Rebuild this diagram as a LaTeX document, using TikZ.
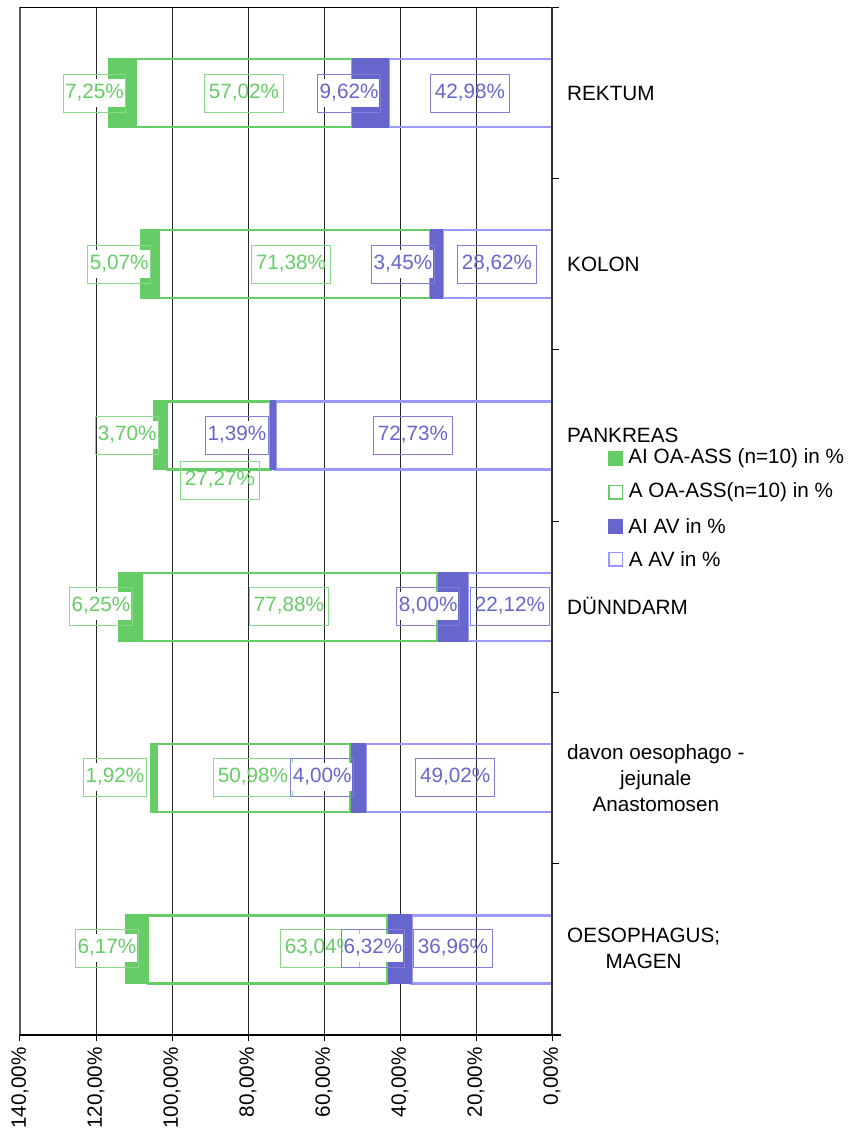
\documentclass[tikz,border=0pt]{standalone}
\usepackage{xcolor}
\usepackage{fontspec}
\setmainfont{Liberation Sans}
\usepackage{tikz}
\usetikzlibrary{positioning}

\definecolor{oagreen}{HTML}{66CC66}
\definecolor{oalbl}{HTML}{8AD98A}
\definecolor{avdark}{HTML}{6666CC}
\definecolor{avlight}{HTML}{9999FF}
\definecolor{avlbl}{HTML}{8080D8}
\definecolor{axisgray}{HTML}{333333}

\newcommand{\chartfont}{\fontsize{20.7}{26}\selectfont}
\newcommand{\wbg}[1]{{\setlength{\fboxsep}{1pt}\colorbox{white}{\strut#1}}}

\begin{document}
\begin{tikzpicture}[
    x=1pt, y=-1pt,
    aoa/.style={draw=oagreen, line width=2.4pt},
    aioa/.style={fill=oagreen},
    aav/.style={draw=avlight, line width=2.4pt},
    aiav/.style={fill=avdark},
    lbl/.style={line width=0.8pt, font=\chartfont, inner xsep=4.5pt, inner ysep=6pt, execute at begin node=\strut},
    lblw/.style={line width=0.8pt, font=\chartfont, inner xsep=1pt, inner ysep=5pt},
    glbl/.style={lbl, draw=oalbl, text=oagreen},
    gwlbl/.style={lblw, draw=oalbl, text=oagreen},
    blbl/.style={lbl, draw=avlbl, text=avdark},
    bwlbl/.style={lblw, draw=avlbl, text=avdark},
    gridln/.style={draw=black!85, line width=0.9pt},
    ticklbl/.style={rotate=90, anchor=east, font=\chartfont, inner sep=0pt},
    cat/.style={anchor=west, align=center, font=\chartfont, inner sep=0pt},
    legsq/.style={minimum size=15pt, inner sep=0pt},
    legtxt/.style={font=\chartfont, inner sep=0pt}
]
\useasboundingbox (0,0) rectangle (848,1135);

% value axis runs from 0% (right) to 140% (left)
\begin{scope}[shift={(552,0)}, x=-3.8pt]

% Gridlines
\draw[gridln] (20,7) -- (20,1035);
\draw[gridln] (40,7) -- (40,1035);
\draw[gridln] (60,7) -- (60,1035);
\draw[gridln] (80,7) -- (80,1035);
\draw[gridln] (100,7) -- (100,1035);
\draw[gridln] (120,7) -- (120,1035);
\draw[draw=black!65, line width=1.3pt] (140,7) -- (140,1035);
\draw[draw=black, line width=1pt] (140,7) -- (-1.84,7);

% REKTUM
\draw[aav] (0,58.7) rectangle (42.98,126.7);
\draw[aoa] (52.60,58.7) rectangle (109.62,126.7);
\fill[aiav] (42.98,57.7) rectangle (52.60,127.7);
\fill[aioa] (109.62,57.7) rectangle (116.87,127.7);

% KOLON
\draw[aav] (0,230.0) rectangle (28.62,298.0);
\draw[aoa] (32.07,230.0) rectangle (103.45,298.0);
\fill[aiav] (28.62,229.0) rectangle (32.07,299.0);
\fill[aioa] (103.45,229.0) rectangle (108.52,299.0);

% PANKREAS
\draw[aav] (0,401.3) rectangle (72.73,469.3);
\draw[aoa] (74.12,401.3) rectangle (101.39,469.3);
\fill[aiav] (72.73,400.3) rectangle (74.12,470.3);
\fill[aioa] (101.39,400.3) rectangle (105.09,470.3);

% DUENNDARM
\draw[aav] (0,572.7) rectangle (22.12,640.7);
\draw[aoa] (30.12,572.7) rectangle (108.00,640.7);
\fill[aiav] (22.12,571.7) rectangle (30.12,641.7);
\fill[aioa] (108.00,571.7) rectangle (114.25,641.7);

% davon oesophago-jejunale Anastomosen
\draw[aav] (0,744.0) rectangle (49.02,812.0);
\draw[aoa] (53.02,744.0) rectangle (104.00,812.0);
\fill[aiav] (49.02,743.0) rectangle (53.02,813.0);
\fill[aioa] (104.00,743.0) rectangle (105.92,813.0);

% OESOPHAGUS; MAGEN
\draw[aav] (0,915.3) rectangle (36.96,983.3);
\draw[aoa] (43.28,915.3) rectangle (106.32,983.3);
\fill[aiav] (36.96,914.3) rectangle (43.28,984.3);
\fill[aioa] (106.32,914.3) rectangle (112.49,984.3);

% Data labels
\node[gwlbl] (rekAIoa) at (120.4,93) {\wbg{7,25\%}};
\node[glbl] (rekAoa) at (81.05,93) {57,02\%};
\node[bwlbl] (rekAIav) at (53.4,93) {\wbg{9,62\%}};
\node[blbl] (rekAav) at (21.6,93) {42,98\%};

\node[gwlbl] (kolAIoa) at (113.9,264) {\wbg{5,07\%}};
\node[glbl] (kolAoa) at (68.7,264) {71,38\%};
\node[bwlbl] (kolAIav) at (39.2,264) {\wbg{3,45\%}};
\node[blbl] (kolAav) at (14.5,264) {28,62\%};

\node[gwlbl] (panAIoa) at (111.8,435) {\wbg{3,70\%}};
\node[glbl] (panAoa) at (87.4,480) {27,27\%};
\node[bwlbl] (panAIav) at (82.9,435) {\wbg{1,39\%}};
\node[blbl] (panAav) at (36.6,435) {72,73\%};

\node[gwlbl] (duenAIoa) at (118.7,606) {\wbg{6,25\%}};
\node[glbl] (duenAoa) at (69.2,606) {77,88\%};
\node[bwlbl] (duenAIav) at (32.6,606) {\wbg{8,00\%}};
\node[blbl] (duenAav) at (11.05,606) {22,12\%};

\node[gwlbl] (jejAIoa) at (115.0,777) {\wbg{1,92\%}};
\node[glbl] (jejAoa) at (78.7,777) {50,98\%};
\node[bwlbl] (jejAIav) at (60.5,777) {\wbg{4,00\%}};
\node[blbl] (jejAav) at (25.5,777) {49,02\%};

\node[gwlbl] (oesAIoa) at (117.1,948) {\wbg{6,17\%}};
\node[glbl] (oesAoa) at (61.05,948) {63,04\%};
\node[bwlbl] (oesAIav) at (47.1,948) {\wbg{6,32\%}};
\node[blbl] (oesAav) at (26.05,948) {36,96\%};

% Axes
\draw[draw=black, line width=1.2pt] (140,1035) -- (-2.4,1035);
\draw[draw=axisgray, line width=1.5pt] (0,7) -- (0,1035);
\draw[line width=1pt] (0,1035) -- (0,1041);
\draw[line width=1pt] (20,1035) -- (20,1041);
\draw[line width=1pt] (40,1035) -- (40,1041);
\draw[line width=1pt] (60,1035) -- (60,1041);
\draw[line width=1pt] (80,1035) -- (80,1041);
\draw[line width=1pt] (100,1035) -- (100,1041);
\draw[line width=1pt] (120,1035) -- (120,1041);
\draw[line width=1pt] (140,1035) -- (140,1041);
\draw[line width=1pt] (0,178.3) -- (-1.84,178.3);
\draw[line width=1pt] (0,349.7) -- (-1.84,349.7);
\draw[line width=1pt] (0,521.0) -- (-1.84,521.0);
\draw[line width=1pt] (0,692.3) -- (-1.84,692.3);
\draw[line width=1pt] (0,863.7) -- (-1.84,863.7);

\node[ticklbl] (t0) at (0,1047) {0,00\%};
\node[ticklbl] (t20) at (20,1047) {20,00\%};
\node[ticklbl] (t40) at (40,1047) {40,00\%};
\node[ticklbl] (t60) at (60,1047) {60,00\%};
\node[ticklbl] (t80) at (80,1047) {80,00\%};
\node[ticklbl] (t100) at (100,1047) {100,00\%};
\node[ticklbl] (t120) at (120,1047) {120,00\%};
\node[ticklbl] (t140) at (140,1047) {140,00\%};
\end{scope}

% Category labels
\node[cat] (rektum) at (567,93) {REKTUM};
\node[cat] (kolon) at (567,264) {KOLON};
\node[cat] (pankreas) at (567,435) {PANKREAS};
\node[cat] (duenndarm) at (567,606) {DÜNNDARM};
\node[cat] (davon) at (567,778) {davon oesophago -\\jejunale\\Anastomosen};
\node[cat] (oesophagus) at (567,948) {OESOPHAGUS;\\MAGEN};

% Legend
\node[legsq, fill=oagreen] (kAIoa) at (615.5,458) {};
\node[legsq, draw=oagreen, line width=1.5pt, minimum size=13.5pt] (kAoa) at (615.5,492) {};
\node[legsq, fill=avdark] (kAIav) at (615.5,526) {};
\node[legsq, draw=avlight, line width=1.5pt, minimum size=13.5pt] (kAav) at (615.5,559) {};
\node[legtxt, right=5pt of kAIoa] (lAIoa) {AI OA-ASS (n=10) in \%};
\node[legtxt, right=5.75pt of kAoa] (lAoa) {A OA-ASS(n=10) in \%};
\node[legtxt, right=5pt of kAIav] (lAIav) {AI AV in \%};
\node[legtxt, right=5.75pt of kAav] (lAav) {A AV in \%};

\end{tikzpicture}
\end{document}
